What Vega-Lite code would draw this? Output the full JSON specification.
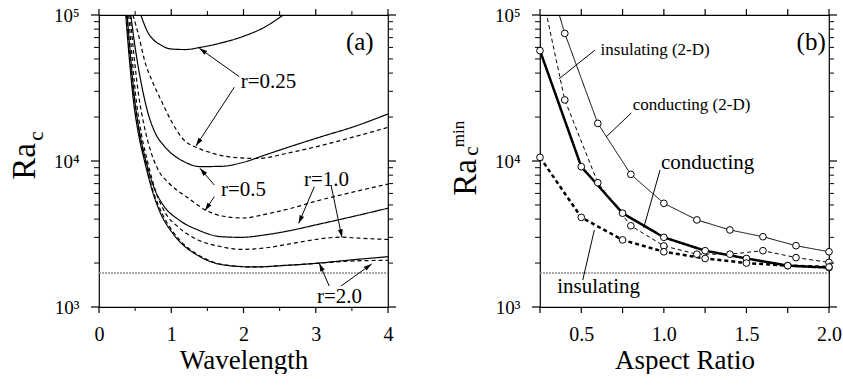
{
  "$schema": "https://vega.github.io/schema/vega-lite/v6.json",
  "background": "white",
  "padding": {"left": 7, "top": 5, "right": 0, "bottom": 0},
  "spacing": 152,
  "bounds": "flush",
  "config": {
    "font": "Liberation Serif",
    "view": {"stroke": "black", "strokeWidth": 1.2},
    "axis": {"domain": false, "grid": false, "ticks": false, "labelColor": "black", "titleColor": "black", "labelFont": "Liberation Serif", "titleFont": "Liberation Serif", "titleFontWeight": "normal", "labelOverlap": false, "labelFlush": false},
    "text": {"font": "Liberation Serif", "color": "black"},
    "tick": {"opacity": 1, "color": "black"}
  },
  "datasets": {
    "yTicks": [
      {"v": 1000, "k": "major"}, {"v": 2000, "k": "minor"}, {"v": 3000, "k": "minor"}, {"v": 4000, "k": "minor"}, {"v": 5000, "k": "minor"}, {"v": 6000, "k": "minor"}, {"v": 7000, "k": "minor"}, {"v": 8000, "k": "minor"}, {"v": 9000, "k": "minor"},
      {"v": 10000, "k": "major"}, {"v": 20000, "k": "minor"}, {"v": 30000, "k": "minor"}, {"v": 40000, "k": "minor"}, {"v": 50000, "k": "minor"}, {"v": 60000, "k": "minor"}, {"v": 70000, "k": "minor"}, {"v": 80000, "k": "minor"}, {"v": 90000, "k": "minor"},
      {"v": 100000, "k": "major"}
    ],
    "xTicksA": [
      {"v": 0, "k": "major"}, {"v": 0.5, "k": "minor"}, {"v": 1, "k": "major"}, {"v": 1.5, "k": "minor"}, {"v": 2, "k": "major"}, {"v": 2.5, "k": "minor"}, {"v": 3, "k": "major"}, {"v": 3.5, "k": "minor"}, {"v": 4, "k": "major"}
    ],
    "xTicksB": [
      {"v": 0.25}, {"v": 0.5}, {"v": 0.75}, {"v": 1.0}, {"v": 1.25}, {"v": 1.5}, {"v": 1.75}, {"v": 2.0}
    ],
    "curvesA": [
      {"r": "0.25", "wall": "conducting", "wl": 0.58, "ra": 100000},
      {"r": "0.25", "wall": "conducting", "wl": 0.62, "ra": 88000},
      {"r": "0.25", "wall": "conducting", "wl": 0.67, "ra": 77000},
      {"r": "0.25", "wall": "conducting", "wl": 0.75, "ra": 68000},
      {"r": "0.25", "wall": "conducting", "wl": 0.85, "ra": 62500},
      {"r": "0.25", "wall": "conducting", "wl": 1.0, "ra": 58500},
      {"r": "0.25", "wall": "conducting", "wl": 1.2, "ra": 58000},
      {"r": "0.25", "wall": "conducting", "wl": 1.4, "ra": 60000},
      {"r": "0.25", "wall": "conducting", "wl": 1.7, "ra": 64500},
      {"r": "0.25", "wall": "conducting", "wl": 2.0, "ra": 71500},
      {"r": "0.25", "wall": "conducting", "wl": 2.3, "ra": 83000},
      {"r": "0.25", "wall": "conducting", "wl": 2.55, "ra": 100000},
      {"r": "0.25", "wall": "insulating", "wl": 0.47, "ra": 100000},
      {"r": "0.25", "wall": "insulating", "wl": 0.55, "ra": 72000},
      {"r": "0.25", "wall": "insulating", "wl": 0.63, "ra": 49000},
      {"r": "0.25", "wall": "insulating", "wl": 0.75, "ra": 34000},
      {"r": "0.25", "wall": "insulating", "wl": 0.86, "ra": 26000},
      {"r": "0.25", "wall": "insulating", "wl": 1.0, "ra": 18800},
      {"r": "0.25", "wall": "insulating", "wl": 1.16, "ra": 14200},
      {"r": "0.25", "wall": "insulating", "wl": 1.4, "ra": 12100},
      {"r": "0.25", "wall": "insulating", "wl": 1.6, "ra": 11200},
      {"r": "0.25", "wall": "insulating", "wl": 1.85, "ra": 10600},
      {"r": "0.25", "wall": "insulating", "wl": 2.2, "ra": 10400},
      {"r": "0.25", "wall": "insulating", "wl": 2.6, "ra": 11300},
      {"r": "0.25", "wall": "insulating", "wl": 3.0, "ra": 12500},
      {"r": "0.25", "wall": "insulating", "wl": 3.5, "ra": 14500},
      {"r": "0.25", "wall": "insulating", "wl": 4.0, "ra": 17000},
      {"r": "0.5", "wall": "conducting", "wl": 0.44, "ra": 100000},
      {"r": "0.5", "wall": "conducting", "wl": 0.5, "ra": 60000},
      {"r": "0.5", "wall": "conducting", "wl": 0.58, "ra": 35000},
      {"r": "0.5", "wall": "conducting", "wl": 0.67, "ra": 22000},
      {"r": "0.5", "wall": "conducting", "wl": 0.78, "ra": 15500},
      {"r": "0.5", "wall": "conducting", "wl": 0.9, "ra": 12700},
      {"r": "0.5", "wall": "conducting", "wl": 1.0, "ra": 11300},
      {"r": "0.5", "wall": "conducting", "wl": 1.16, "ra": 10000},
      {"r": "0.5", "wall": "conducting", "wl": 1.4, "ra": 9150},
      {"r": "0.5", "wall": "conducting", "wl": 1.7, "ra": 9200},
      {"r": "0.5", "wall": "conducting", "wl": 2.0, "ra": 9800},
      {"r": "0.5", "wall": "conducting", "wl": 2.3, "ra": 11000},
      {"r": "0.5", "wall": "conducting", "wl": 2.7, "ra": 12800},
      {"r": "0.5", "wall": "conducting", "wl": 3.1, "ra": 14800},
      {"r": "0.5", "wall": "conducting", "wl": 3.5, "ra": 17000},
      {"r": "0.5", "wall": "conducting", "wl": 4.0, "ra": 21000},
      {"r": "0.5", "wall": "insulating", "wl": 0.43, "ra": 100000},
      {"r": "0.5", "wall": "insulating", "wl": 0.48, "ra": 55000},
      {"r": "0.5", "wall": "insulating", "wl": 0.55, "ra": 28000},
      {"r": "0.5", "wall": "insulating", "wl": 0.63, "ra": 17000},
      {"r": "0.5", "wall": "insulating", "wl": 0.72, "ra": 11500},
      {"r": "0.5", "wall": "insulating", "wl": 0.83, "ra": 8500},
      {"r": "0.5", "wall": "insulating", "wl": 0.95, "ra": 7200},
      {"r": "0.5", "wall": "insulating", "wl": 1.1, "ra": 6200},
      {"r": "0.5", "wall": "insulating", "wl": 1.23, "ra": 5600},
      {"r": "0.5", "wall": "insulating", "wl": 1.46, "ra": 4650},
      {"r": "0.5", "wall": "insulating", "wl": 1.7, "ra": 4200},
      {"r": "0.5", "wall": "insulating", "wl": 2.0, "ra": 4070},
      {"r": "0.5", "wall": "insulating", "wl": 2.33, "ra": 4350},
      {"r": "0.5", "wall": "insulating", "wl": 2.7, "ra": 4800},
      {"r": "0.5", "wall": "insulating", "wl": 3.0, "ra": 5300},
      {"r": "0.5", "wall": "insulating", "wl": 3.5, "ra": 6100},
      {"r": "0.5", "wall": "insulating", "wl": 4.0, "ra": 6950},
      {"r": "1.0", "wall": "conducting", "wl": 0.39, "ra": 100000},
      {"r": "1.0", "wall": "conducting", "wl": 0.44, "ra": 50000},
      {"r": "1.0", "wall": "conducting", "wl": 0.5, "ra": 25000},
      {"r": "1.0", "wall": "conducting", "wl": 0.57, "ra": 15000},
      {"r": "1.0", "wall": "conducting", "wl": 0.65, "ra": 10000},
      {"r": "1.0", "wall": "conducting", "wl": 0.76, "ra": 6600},
      {"r": "1.0", "wall": "conducting", "wl": 0.9, "ra": 4900},
      {"r": "1.0", "wall": "conducting", "wl": 1.09, "ra": 4000},
      {"r": "1.0", "wall": "conducting", "wl": 1.37, "ra": 3370},
      {"r": "1.0", "wall": "conducting", "wl": 1.69, "ra": 3030},
      {"r": "1.0", "wall": "conducting", "wl": 1.97, "ra": 3000},
      {"r": "1.0", "wall": "conducting", "wl": 2.3, "ra": 3120},
      {"r": "1.0", "wall": "conducting", "wl": 2.7, "ra": 3380},
      {"r": "1.0", "wall": "conducting", "wl": 3.0, "ra": 3650},
      {"r": "1.0", "wall": "conducting", "wl": 3.5, "ra": 4150},
      {"r": "1.0", "wall": "conducting", "wl": 4.0, "ra": 4750},
      {"r": "1.0", "wall": "insulating", "wl": 0.41, "ra": 100000},
      {"r": "1.0", "wall": "insulating", "wl": 0.46, "ra": 50000},
      {"r": "1.0", "wall": "insulating", "wl": 0.52, "ra": 25000},
      {"r": "1.0", "wall": "insulating", "wl": 0.59, "ra": 15000},
      {"r": "1.0", "wall": "insulating", "wl": 0.67, "ra": 10000},
      {"r": "1.0", "wall": "insulating", "wl": 0.78, "ra": 6300},
      {"r": "1.0", "wall": "insulating", "wl": 0.92, "ra": 4400},
      {"r": "1.0", "wall": "insulating", "wl": 1.09, "ra": 3550},
      {"r": "1.0", "wall": "insulating", "wl": 1.37, "ra": 2880},
      {"r": "1.0", "wall": "insulating", "wl": 1.69, "ra": 2590},
      {"r": "1.0", "wall": "insulating", "wl": 1.97, "ra": 2480},
      {"r": "1.0", "wall": "insulating", "wl": 2.3, "ra": 2540},
      {"r": "1.0", "wall": "insulating", "wl": 2.7, "ra": 2740},
      {"r": "1.0", "wall": "insulating", "wl": 3.0, "ra": 2900},
      {"r": "1.0", "wall": "insulating", "wl": 3.35, "ra": 3010},
      {"r": "1.0", "wall": "insulating", "wl": 3.6, "ra": 2960},
      {"r": "1.0", "wall": "insulating", "wl": 4.0, "ra": 2900},
      {"r": "2.0", "wall": "conducting", "wl": 0.37, "ra": 100000},
      {"r": "2.0", "wall": "conducting", "wl": 0.42, "ra": 50000},
      {"r": "2.0", "wall": "conducting", "wl": 0.48, "ra": 25000},
      {"r": "2.0", "wall": "conducting", "wl": 0.55, "ra": 15000},
      {"r": "2.0", "wall": "conducting", "wl": 0.63, "ra": 10000},
      {"r": "2.0", "wall": "conducting", "wl": 0.74, "ra": 6200},
      {"r": "2.0", "wall": "conducting", "wl": 0.85, "ra": 4400},
      {"r": "2.0", "wall": "conducting", "wl": 1.0, "ra": 3300},
      {"r": "2.0", "wall": "conducting", "wl": 1.15, "ra": 2700},
      {"r": "2.0", "wall": "conducting", "wl": 1.32, "ra": 2330},
      {"r": "2.0", "wall": "conducting", "wl": 1.55, "ra": 2040},
      {"r": "2.0", "wall": "conducting", "wl": 1.8, "ra": 1920},
      {"r": "2.0", "wall": "conducting", "wl": 2.15, "ra": 1880},
      {"r": "2.0", "wall": "conducting", "wl": 2.6, "ra": 1930},
      {"r": "2.0", "wall": "conducting", "wl": 3.0, "ra": 1990},
      {"r": "2.0", "wall": "conducting", "wl": 3.44, "ra": 2090},
      {"r": "2.0", "wall": "conducting", "wl": 4.0, "ra": 2210},
      {"r": "2.0", "wall": "insulating", "wl": 0.38, "ra": 100000},
      {"r": "2.0", "wall": "insulating", "wl": 0.43, "ra": 50000},
      {"r": "2.0", "wall": "insulating", "wl": 0.49, "ra": 25000},
      {"r": "2.0", "wall": "insulating", "wl": 0.56, "ra": 15000},
      {"r": "2.0", "wall": "insulating", "wl": 0.64, "ra": 10000},
      {"r": "2.0", "wall": "insulating", "wl": 0.75, "ra": 6200},
      {"r": "2.0", "wall": "insulating", "wl": 0.87, "ra": 4400},
      {"r": "2.0", "wall": "insulating", "wl": 1.02, "ra": 3300},
      {"r": "2.0", "wall": "insulating", "wl": 1.17, "ra": 2700},
      {"r": "2.0", "wall": "insulating", "wl": 1.34, "ra": 2330},
      {"r": "2.0", "wall": "insulating", "wl": 1.57, "ra": 2040},
      {"r": "2.0", "wall": "insulating", "wl": 1.82, "ra": 1920},
      {"r": "2.0", "wall": "insulating", "wl": 2.15, "ra": 1880},
      {"r": "2.0", "wall": "insulating", "wl": 2.6, "ra": 1930},
      {"r": "2.0", "wall": "insulating", "wl": 3.0, "ra": 1990},
      {"r": "2.0", "wall": "insulating", "wl": 3.44, "ra": 2060},
      {"r": "2.0", "wall": "insulating", "wl": 4.0, "ra": 2090}
    ],
    "onsetA": [{"wl": 0, "ra": 1708}, {"wl": 4, "ra": 1708}],
    "labelsA": [
      {"wl": 2.346, "ra": 34800, "t": "r=0.25"},
      {"wl": 2.0, "ra": 6320, "t": "r=0.5"},
      {"wl": 3.149, "ra": 7410, "t": "r=1.0"},
      {"wl": 3.329, "ra": 1170, "t": "r=2.0"}
    ],
    "arrowsA": [
      {"wl": 1.942, "ra": 37800, "wl2": 1.388, "ra2": 59200, "ang": -54.6},
      {"wl": 1.873, "ra": 32000, "wl2": 1.343, "ra2": 12700, "ang": -146.9},
      {"wl": 1.596, "ra": 6850, "wl2": 1.398, "ra2": 8910, "ang": -40.6},
      {"wl": 1.596, "ra": 5700, "wl2": 1.467, "ra2": 4570, "ang": -146.4},
      {"wl": 2.98, "ra": 6670, "wl2": 2.764, "ra2": 3740, "ang": -156.9},
      {"wl": 3.211, "ra": 6850, "wl2": 3.363, "ra2": 3000, "ang": 168.1},
      {"wl": 3.187, "ra": 1390, "wl2": 3.049, "ra2": 1990, "ang": -23.8},
      {"wl": 3.349, "ra": 1390, "wl2": 3.774, "ra2": 1970, "ang": 54.4}
    ],
    "linesB": [
      {"series": "conducting (2-D)", "ar": 0.3, "ra": 180000},
      {"series": "conducting (2-D)", "ar": 0.4, "ra": 74800},
      {"series": "conducting (2-D)", "ar": 0.6, "ra": 18100},
      {"series": "conducting (2-D)", "ar": 0.8, "ra": 8100},
      {"series": "conducting (2-D)", "ar": 1.0, "ra": 5130},
      {"series": "conducting (2-D)", "ar": 1.2, "ra": 3950},
      {"series": "conducting (2-D)", "ar": 1.4, "ra": 3370},
      {"series": "conducting (2-D)", "ar": 1.6, "ra": 3030},
      {"series": "conducting (2-D)", "ar": 1.8, "ra": 2630},
      {"series": "conducting (2-D)", "ar": 2.0, "ra": 2390},
      {"series": "insulating (2-D)", "ar": 0.25, "ra": 163000},
      {"series": "insulating (2-D)", "ar": 0.4, "ra": 26200},
      {"series": "insulating (2-D)", "ar": 0.6, "ra": 7100},
      {"series": "insulating (2-D)", "ar": 0.8, "ra": 3600},
      {"series": "insulating (2-D)", "ar": 1.0, "ra": 2620},
      {"series": "insulating (2-D)", "ar": 1.2, "ra": 2300},
      {"series": "insulating (2-D)", "ar": 1.4, "ra": 2300},
      {"series": "insulating (2-D)", "ar": 1.6, "ra": 2430},
      {"series": "insulating (2-D)", "ar": 1.8, "ra": 2180},
      {"series": "insulating (2-D)", "ar": 2.0, "ra": 2020},
      {"series": "conducting", "ar": 0.25, "ra": 57000},
      {"series": "conducting", "ar": 0.5, "ra": 9140},
      {"series": "conducting", "ar": 0.75, "ra": 4390},
      {"series": "conducting", "ar": 1.0, "ra": 3000},
      {"series": "conducting", "ar": 1.25, "ra": 2430},
      {"series": "conducting", "ar": 1.5, "ra": 2150},
      {"series": "conducting", "ar": 1.75, "ra": 1920},
      {"series": "conducting", "ar": 2.0, "ra": 1860},
      {"series": "insulating", "ar": 0.25, "ra": 10600},
      {"series": "insulating", "ar": 0.5, "ra": 4110},
      {"series": "insulating", "ar": 0.75, "ra": 2880},
      {"series": "insulating", "ar": 1.0, "ra": 2390},
      {"series": "insulating", "ar": 1.25, "ra": 2150},
      {"series": "insulating", "ar": 1.5, "ra": 2000},
      {"series": "insulating", "ar": 1.75, "ra": 1920},
      {"series": "insulating", "ar": 2.0, "ra": 1880}
    ],
    "onsetB": [{"ar": 0.25, "ra": 1708}, {"ar": 2.0, "ra": 1708}],
    "smallLabelsB": [
      {"ar": 0.947, "ra": 57500, "t": "insulating (2-D)"},
      {"ar": 1.168, "ra": 24200, "t": "conducting (2-D)"}
    ],
    "bigLabelsB": [
      {"ar": 1.265, "ra": 9680, "t": "conducting"},
      {"ar": 0.605, "ra": 1370, "t": "insulating"}
    ],
    "leadersB": [
      {"ar": 0.583, "ra": 57500, "ar2": 0.365, "ra2": 36500},
      {"ar": 0.802, "ra": 21300, "ar2": 0.65, "ra2": 14600},
      {"ar": 0.977, "ra": 8670, "ar2": 0.878, "ra2": 3490},
      {"ar": 0.509, "ra": 1530, "ar2": 0.579, "ra2": 3370}
    ]
  },
  "hconcat": [
    {
      "width": 289,
      "height": 292,
      "layer": [
        {
          "data": {"name": "curvesA"},
          "mark": {"type": "line", "clip": true, "interpolate": "monotone", "strokeWidth": 1.2, "color": "black"},
          "encoding": {
            "x": {"field": "wl", "type": "quantitative", "scale": {"domain": [0, 4], "nice": false, "zero": false},
              "axis": {"orient": "bottom", "values": [0, 1, 2, 3, 4], "format": "d", "labelFontSize": 20, "labelPadding": 17, "title": "Wavelength", "titleFontSize": 27, "titlePadding": 3}},
            "y": {"field": "ra", "type": "quantitative", "scale": {"type": "log", "domain": [1000, 100000], "nice": false},
              "axis": {"orient": "left", "values": [1000, 10000, 100000], "labelExpr": "datum.value == 1000 ? '10³' : datum.value == 10000 ? '10⁴' : '10⁵'", "labelFontSize": 19, "labelPadding": 20, "title": "Ra", "titleFontSize": 33, "titlePadding": 12}},
            "detail": [{"field": "r"}, {"field": "wall"}],
            "strokeDash": {"field": "wall", "type": "nominal", "scale": {"domain": ["conducting", "insulating"], "range": [[1, 0], [4, 3]]}, "legend": null}
          }
        },
        {
          "data": {"name": "onsetA"},
          "mark": {"type": "line", "color": "#8a8a8a", "strokeWidth": 1.6, "strokeDash": [2, 1]},
          "encoding": {
            "x": {"field": "wl", "type": "quantitative"},
            "y": {"field": "ra", "type": "quantitative"}
          }
        },
        {
          "data": {"name": "yTicks"},
          "transform": [{"filter": "datum.k == 'major'"}],
          "mark": {"type": "tick", "orient": "horizontal", "size": 8, "thickness": 1.2, "xOffset": -4},
          "encoding": {"x": {"datum": 0, "type": "quantitative"}, "y": {"field": "v", "type": "quantitative"}}
        },
        {
          "data": {"name": "yTicks"},
          "transform": [{"filter": "datum.k == 'minor'"}],
          "mark": {"type": "tick", "orient": "horizontal", "size": 5, "thickness": 1, "xOffset": -2.5},
          "encoding": {"x": {"datum": 0, "type": "quantitative"}, "y": {"field": "v", "type": "quantitative"}}
        },
        {
          "data": {"name": "yTicks"},
          "transform": [{"filter": "datum.k == 'major'"}],
          "mark": {"type": "tick", "orient": "horizontal", "size": 8, "thickness": 1.2, "xOffset": 4},
          "encoding": {"x": {"datum": 4, "type": "quantitative"}, "y": {"field": "v", "type": "quantitative"}}
        },
        {
          "data": {"name": "yTicks"},
          "transform": [{"filter": "datum.k == 'minor'"}],
          "mark": {"type": "tick", "orient": "horizontal", "size": 5, "thickness": 1, "xOffset": 2.5},
          "encoding": {"x": {"datum": 4, "type": "quantitative"}, "y": {"field": "v", "type": "quantitative"}}
        },
        {
          "data": {"name": "xTicksA"},
          "transform": [{"filter": "datum.k == 'major'"}],
          "mark": {"type": "tick", "orient": "vertical", "size": 6, "thickness": 1.2, "yOffset": 3},
          "encoding": {"x": {"field": "v", "type": "quantitative"}, "y": {"datum": 1000, "type": "quantitative"}}
        },
        {
          "data": {"name": "xTicksA"},
          "transform": [{"filter": "datum.k == 'minor'"}],
          "mark": {"type": "tick", "orient": "vertical", "size": 4, "thickness": 1, "yOffset": 2},
          "encoding": {"x": {"field": "v", "type": "quantitative"}, "y": {"datum": 1000, "type": "quantitative"}}
        },
        {
          "data": {"name": "xTicksA"},
          "transform": [{"filter": "datum.k == 'major'"}],
          "mark": {"type": "tick", "orient": "vertical", "size": 6, "thickness": 1.2, "yOffset": -3},
          "encoding": {"x": {"field": "v", "type": "quantitative"}, "y": {"datum": 100000, "type": "quantitative"}}
        },
        {
          "data": {"name": "xTicksA"},
          "transform": [{"filter": "datum.k == 'minor'"}],
          "mark": {"type": "tick", "orient": "vertical", "size": 4, "thickness": 1, "yOffset": -2},
          "encoding": {"x": {"field": "v", "type": "quantitative"}, "y": {"datum": 100000, "type": "quantitative"}}
        },
        {
          "data": {"name": "arrowsA"},
          "mark": {"type": "rule", "color": "black", "strokeWidth": 1},
          "encoding": {
            "x": {"field": "wl", "type": "quantitative"},
            "y": {"field": "ra", "type": "quantitative"},
            "x2": {"field": "wl2"},
            "y2": {"field": "ra2"}
          }
        },
        {
          "data": {"name": "arrowsA"},
          "mark": {"type": "point", "shape": "M0,0L-0.6,2L0.6,2Z", "filled": true, "color": "black", "size": 64, "opacity": 1},
          "encoding": {
            "x": {"field": "wl2", "type": "quantitative"},
            "y": {"field": "ra2", "type": "quantitative"},
            "angle": {"field": "ang", "type": "quantitative", "scale": null}
          }
        },
        {
          "data": {"name": "labelsA"},
          "mark": {"type": "text", "fontSize": 21, "align": "center", "baseline": "middle"},
          "encoding": {
            "x": {"field": "wl", "type": "quantitative"},
            "y": {"field": "ra", "type": "quantitative"},
            "text": {"field": "t"}
          }
        },
        {
          "data": {"values": [{"wl": 3.61, "ra": 65300, "t": "(a)"}]},
          "mark": {"type": "text", "fontSize": 25, "align": "center", "baseline": "middle"},
          "encoding": {
            "x": {"field": "wl", "type": "quantitative"},
            "y": {"field": "ra", "type": "quantitative"},
            "text": {"field": "t"}
          }
        },
        {
          "data": {"values": [{"wl": -0.86, "ra": 14800, "t": "c"}]},
          "mark": {"type": "text", "fontSize": 21, "align": "center", "baseline": "middle", "angle": 270},
          "encoding": {
            "x": {"field": "wl", "type": "quantitative"},
            "y": {"field": "ra", "type": "quantitative"},
            "text": {"field": "t"}
          }
        }
      ]
    },
    {
      "width": 289,
      "height": 292,
      "layer": [
        {
          "data": {"name": "linesB"},
          "transform": [{"filter": {"field": "series", "oneOf": ["conducting (2-D)", "insulating (2-D)"]}}],
          "mark": {"type": "line", "clip": true, "color": "black", "strokeWidth": 1},
          "encoding": {
            "x": {"field": "ar", "type": "quantitative", "scale": {"domain": [0.25, 2.0], "nice": false, "zero": false},
              "axis": {"orient": "bottom", "values": [0.5, 1.0, 1.5, 2.0], "format": ".1f", "labelFontSize": 20, "labelPadding": 17, "title": "Aspect Ratio", "titleFontSize": 27, "titlePadding": 3}},
            "y": {"field": "ra", "type": "quantitative", "scale": {"type": "log", "domain": [1000, 100000], "nice": false},
              "axis": {"orient": "left", "values": [1000, 10000, 100000], "labelExpr": "datum.value == 1000 ? '10³' : datum.value == 10000 ? '10⁴' : '10⁵'", "labelFontSize": 19, "labelPadding": 20, "title": "Ra", "titleFontSize": 33, "titlePadding": 12, "titleY": 162}},
            "detail": {"field": "series"},
            "strokeDash": {"field": "series", "type": "nominal", "scale": {"domain": ["conducting (2-D)", "insulating (2-D)"], "range": [[1, 0], [4, 3]]}, "legend": null}
          }
        },
        {
          "data": {"name": "linesB"},
          "transform": [{"filter": {"field": "series", "oneOf": ["conducting", "insulating"]}}],
          "mark": {"type": "line", "clip": true, "color": "black", "strokeWidth": 2.5},
          "encoding": {
            "x": {"field": "ar", "type": "quantitative"},
            "y": {"field": "ra", "type": "quantitative"},
            "detail": {"field": "series"},
            "strokeDash": {"field": "series", "type": "nominal", "scale": {"domain": ["conducting", "insulating"], "range": [[1, 0], [5, 3]]}, "legend": null}
          }
        },
        {
          "data": {"name": "linesB"},
          "transform": [{"filter": "datum.ra <= 100000"}],
          "mark": {"type": "point", "shape": "circle", "filled": true, "fill": "white", "stroke": "black", "strokeWidth": 1, "size": 45, "opacity": 1},
          "encoding": {
            "x": {"field": "ar", "type": "quantitative"},
            "y": {"field": "ra", "type": "quantitative"}
          }
        },
        {
          "data": {"name": "onsetB"},
          "mark": {"type": "line", "color": "#8a8a8a", "strokeWidth": 1.6, "strokeDash": [2, 1]},
          "encoding": {
            "x": {"field": "ar", "type": "quantitative"},
            "y": {"field": "ra", "type": "quantitative"}
          }
        },
        {
          "data": {"name": "yTicks"},
          "transform": [{"filter": "datum.k == 'major'"}],
          "mark": {"type": "tick", "orient": "horizontal", "size": 8, "thickness": 1.2, "xOffset": -4},
          "encoding": {"x": {"datum": 0.25, "type": "quantitative"}, "y": {"field": "v", "type": "quantitative"}}
        },
        {
          "data": {"name": "yTicks"},
          "transform": [{"filter": "datum.k == 'minor'"}],
          "mark": {"type": "tick", "orient": "horizontal", "size": 5, "thickness": 1, "xOffset": -2.5},
          "encoding": {"x": {"datum": 0.25, "type": "quantitative"}, "y": {"field": "v", "type": "quantitative"}}
        },
        {
          "data": {"name": "yTicks"},
          "transform": [{"filter": "datum.k == 'major'"}],
          "mark": {"type": "tick", "orient": "horizontal", "size": 8, "thickness": 1.2, "xOffset": 4},
          "encoding": {"x": {"datum": 2.0, "type": "quantitative"}, "y": {"field": "v", "type": "quantitative"}}
        },
        {
          "data": {"name": "yTicks"},
          "transform": [{"filter": "datum.k == 'minor'"}],
          "mark": {"type": "tick", "orient": "horizontal", "size": 5, "thickness": 1, "xOffset": 2.5},
          "encoding": {"x": {"datum": 2.0, "type": "quantitative"}, "y": {"field": "v", "type": "quantitative"}}
        },
        {
          "data": {"name": "xTicksB"},
          "mark": {"type": "tick", "orient": "vertical", "size": 6, "thickness": 1.2, "yOffset": 3},
          "encoding": {"x": {"field": "v", "type": "quantitative"}, "y": {"datum": 1000, "type": "quantitative"}}
        },
        {
          "data": {"name": "xTicksB"},
          "mark": {"type": "tick", "orient": "vertical", "size": 6, "thickness": 1.2, "yOffset": -3},
          "encoding": {"x": {"field": "v", "type": "quantitative"}, "y": {"datum": 100000, "type": "quantitative"}}
        },
        {
          "data": {"name": "leadersB"},
          "mark": {"type": "rule", "color": "black", "strokeWidth": 1},
          "encoding": {
            "x": {"field": "ar", "type": "quantitative"},
            "y": {"field": "ra", "type": "quantitative"},
            "x2": {"field": "ar2"},
            "y2": {"field": "ra2"}
          }
        },
        {
          "data": {"name": "smallLabelsB"},
          "mark": {"type": "text", "fontSize": 17, "align": "center", "baseline": "middle"},
          "encoding": {
            "x": {"field": "ar", "type": "quantitative"},
            "y": {"field": "ra", "type": "quantitative"},
            "text": {"field": "t"}
          }
        },
        {
          "data": {"name": "bigLabelsB"},
          "mark": {"type": "text", "fontSize": 21, "align": "center", "baseline": "middle"},
          "encoding": {
            "x": {"field": "ar", "type": "quantitative"},
            "y": {"field": "ra", "type": "quantitative"},
            "text": {"field": "t"}
          }
        },
        {
          "data": {"values": [{"ar": 1.892, "ra": 65300, "t": "(b)"}]},
          "mark": {"type": "text", "fontSize": 25, "align": "center", "baseline": "middle"},
          "encoding": {
            "x": {"field": "ar", "type": "quantitative"},
            "y": {"field": "ra", "type": "quantitative"},
            "text": {"field": "t"}
          }
        },
        {
          "data": {"values": [{"ar": -0.16, "ra": 11700, "t": "c"}]},
          "mark": {"type": "text", "fontSize": 21, "align": "center", "baseline": "middle", "angle": 270},
          "encoding": {
            "x": {"field": "ar", "type": "quantitative"},
            "y": {"field": "ra", "type": "quantitative"},
            "text": {"field": "t"}
          }
        },
        {
          "data": {"values": [{"ar": -0.24, "ra": 15300, "t": "min"}]},
          "mark": {"type": "text", "fontSize": 17, "align": "center", "baseline": "middle", "angle": 270},
          "encoding": {
            "x": {"field": "ar", "type": "quantitative"},
            "y": {"field": "ra", "type": "quantitative"},
            "text": {"field": "t"}
          }
        }
      ]
    }
  ]
}
